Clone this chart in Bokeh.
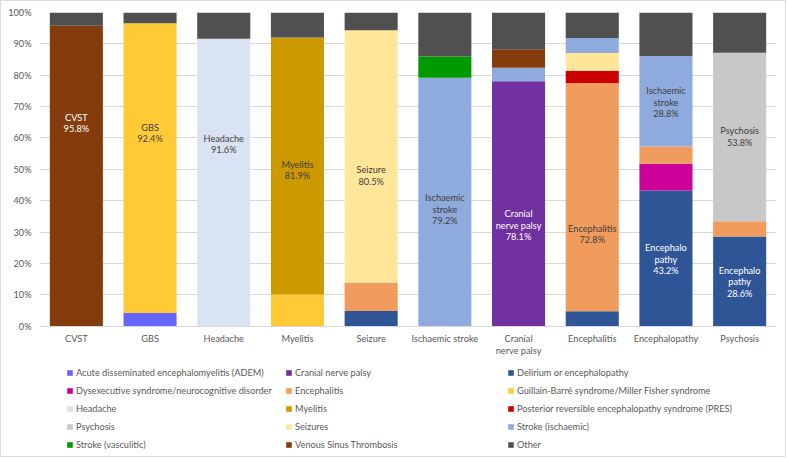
from bokeh.plotting import figure
from bokeh.models import ColumnDataSource, FactorRange, Legend, LegendItem, PrintfTickFormatter, FixedTicker, Range1d
from bokeh.core.properties import value
from bokeh.embed import file_html
from bokeh.resources import INLINE

categories = ["CVST", "GBS", "Headache", "Myelitis", "Seizure", "Ischaemic stroke",
              "Cranial nerve palsy", "Encephalitis", "Encephalopathy", "Psychosis"]
category_labels = ["CVST", "GBS", "Headache", "Myelitis", "Seizure", "Ischaemic stroke",
                   "Cranial\nnerve palsy", "Encephalitis", "Encephalopathy", "Psychosis"]

series_names = ["Acute disseminated encephalomyelitis (ADEM)", "Cranial nerve palsy",
                "Delirium or encephalopathy", "Dysexecutive syndrome/neurocognitive disorder",
                "Encephalitis", "Guillain-Barré syndrome/Miller Fisher syndrome", "Headache",
                "Myelitis", "Posterior reversible encephalopathy syndrome (PRES)", "Psychosis",
                "Seizures", "Stroke (ischaemic)", "Stroke (vasculitic)", "Venous Sinus Thrombosis", "Other"]
series_colors = ["#6666FF", "#7030A0", "#2F5597", "#CC0099", "#F19B5C", "#FFCA35", "#DAE3F3",
                 "#CC9900", "#CC0000", "#C8C8C8", "#FFE699", "#8FAADC", "#009900", "#843C0C", "#505050"]

adem         = [0, 4.2, 0, 0, 0, 0, 0, 0, 0, 0]
cranial      = [0, 0, 0, 0, 0, 0, 78.1, 0, 0, 0]
delirium     = [0, 0, 0, 0, 4.8, 0, 0, 4.7, 43.2, 28.6]
dysexec      = [0, 0, 0, 0, 0, 0, 0, 0, 8.6, 0]
encephalitis = [0, 0, 0, 0, 9.0, 0, 0, 72.8, 5.5, 4.8]
gbs          = [0, 92.4, 0, 10.1, 0, 0, 0, 0, 0, 0]
headache     = [0, 0, 91.6, 0, 0, 0, 0, 0, 0, 0]
myelitis     = [0, 0, 0, 81.9, 0, 0, 0, 0, 0, 0]
pres         = [0, 0, 0, 0, 0, 0, 0, 3.9, 0, 0]
psychosis    = [0, 0, 0, 0, 0, 0, 0, 0, 0, 53.8]
seizures     = [0, 0, 0, 0, 80.5, 0, 0, 5.7, 0, 0]
stroke_isch  = [0, 0, 0, 0, 0, 79.2, 4.3, 4.8, 28.8, 0]
stroke_vasc  = [0, 0, 0, 0, 0, 6.8, 0, 0, 0, 0]
vst          = [95.8, 0, 0, 0, 0, 0, 5.9, 0, 0, 0]
other        = [4.2, 3.4, 8.4, 8.0, 5.7, 14.0, 11.7, 8.1, 13.9, 12.8]

series_values = [adem, cranial, delirium, dysexec, encephalitis, gbs, headache, myelitis,
                 pres, psychosis, seizures, stroke_isch, stroke_vasc, vst, other]

y_ticks = [0, 10, 20, 30, 40, 50, 60, 70, 80, 90, 100]

label_cat = ["CVST", "GBS", "Headache", "Myelitis", "Seizure", "Ischaemic stroke",
             "Cranial nerve palsy", "Encephalitis", "Encephalopathy", "Encephalopathy",
             "Psychosis", "Psychosis"]
label_text = ["CVST\n95.8%", "GBS\n92.4%", "Headache\n91.6%", "Myelitis\n81.9%", "Seizure\n80.5%",
              "Ischaemic\nstroke\n79.2%", "Cranial\nnerve palsy\n78.1%", "Encephalitis\n72.8%",
              "Encephalo\npathy\n43.2%", "Ischaemic\nstroke\n28.8%", "Encephalo\npathy\n28.6%",
              "Psychosis\n53.8%"]
label_y = [64.7, 61.6, 58.0, 49.7, 48.0, 37.3, 32.2, 29.4, 21.3, 71.4, 14.1, 60.4]
label_color = ["white", "#404040", "#404040", "#404040", "#404040", "#404040", "white",
               "#404040", "white", "#404040", "white", "#404040"]

FONT = "Lato"
FS = "9.2px"
TXT = "#595959"

keys = ["s%d" % i for i in range(len(series_values))]
data = {"cat": categories}
for k, v in zip(keys, series_values):
    data[k] = v
source = ColumnDataSource(data)

# frame extends below 0 so that the category labels and legend live inside it
p = figure(x_range=FactorRange(*categories, range_padding=0), y_range=Range1d(-40, 100),
           frame_width=737, frame_height=439, output_backend="svg", toolbar_location=None,
           min_border_left=38, min_border_right=9, min_border_top=11, min_border_bottom=5)
p.styles = {"border": "1px solid #DDDDDD"}

renderers = p.vbar_stack(keys, x="cat", width=0.72, source=source,
                         color=series_colors, line_color=None)

lab_src = ColumnDataSource(dict(x=label_cat, y=label_y, t=label_text, c=label_color))
p.text(x="x", y="y", text="t", text_color="c", source=lab_src, text_align="center",
       text_baseline="middle", text_font=value(FONT), text_font_size=FS, text_line_height=1.05)

# category labels under the baseline
cat_src = ColumnDataSource(dict(x=categories, t=category_labels))
p.text(x="x", y=-2.2, text="t", source=cat_src, text_align="center", text_baseline="top",
       text_color=TXT, text_font=value(FONT), text_font_size=FS, text_line_height=1.1)

p.xaxis.visible = False
p.outline_line_color = None
p.xgrid.grid_line_color = None
p.ygrid.grid_line_color = "#D9D9D9"
p.ygrid.ticker = FixedTicker(ticks=y_ticks)

p.yaxis.ticker = FixedTicker(ticks=y_ticks)
p.yaxis.formatter = PrintfTickFormatter(format="%d%%")
p.yaxis.axis_line_color = None
p.yaxis.major_label_standoff = 8
p.yaxis.major_tick_line_color = None
p.yaxis.minor_tick_line_color = None
p.yaxis.major_tick_in = 0
p.yaxis.major_tick_out = 0
p.yaxis.minor_tick_in = 0
p.yaxis.minor_tick_out = 0
p.yaxis.major_label_text_font = FONT
p.yaxis.major_label_text_font_size = FS
p.yaxis.major_label_text_color = TXT

items = [LegendItem(label=n, renderers=[r]) for n, r in zip(series_names, renderers)]
col_x = [27, 246, 468]
for ci in range(3):
    leg = Legend(items=items[ci::3], location=(col_x[ci], 1), orientation="vertical",
                 glyph_width=7, glyph_height=7, label_standoff=3, label_height=12, spacing=6,
                 padding=0, margin=0, border_line_color=None, background_fill_alpha=0,
                 label_text_font=FONT, label_text_font_size=FS, label_text_color=TXT)
    p.add_layout(leg, "center")

open("out.html", "w").write(file_html(p, INLINE))
